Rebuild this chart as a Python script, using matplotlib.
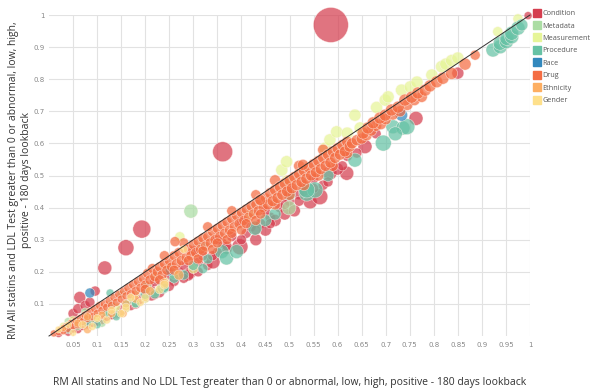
import matplotlib
matplotlib.use('Agg')
import matplotlib.pyplot as plt
from matplotlib.lines import Line2D

# categories / colours
categories = ['Condition', 'Metadata', 'Measurement', 'Procedure', 'Race', 'Drug', 'Ethnicity', 'Gender']
colors = ['#d53e4f', '#abdda4', '#e6f598', '#66c2a5', '#3288bd', '#f46d43', '#fdae61', '#fee08b']

# ticks
x_ticks = [0.05, 0.1, 0.15, 0.2, 0.25, 0.3, 0.35, 0.4, 0.45, 0.5, 0.55, 0.6, 0.65, 0.7, 0.75, 0.8, 0.85, 0.9, 0.95, 1]
x_tick_labels = ['0.05', '0.1', '0.15', '0.2', '0.25', '0.3', '0.35', '0.4', '0.45', '0.5', '0.55', '0.6',
                 '0.65', '0.7', '0.75', '0.8', '0.85', '0.9', '0.95', '1']
y_ticks = [0.1, 0.2, 0.3, 0.4, 0.5, 0.6, 0.7, 0.8, 0.9, 1]
y_tick_labels = ['0.1', '0.2', '0.3', '0.4', '0.5', '0.6', '0.7', '0.8', '0.9', '1']
diag = [0, 1]

# (x, y, bubble weight) per category
condition = [
    (0.586, 0.969, 17.5), (0.361, 0.574, 10), (0.193, 0.333, 9), (0.160, 0.275, 8), (0.116, 0.212, 7),
    (0.096, 0.140, 5), (0.064, 0.120, 6), (0.996, 0.998, 4),
    (0.02, 0.008, 4), (0.04, 0.012, 4), (0.05, 0.022, 4), (0.06, 0.02, 4), (0.07, 0.03, 4), (0.08, 0.035, 4),
    (0.09, 0.04, 4), (0.10, 0.045, 4.5), (0.11, 0.05, 4.5), (0.12, 0.06, 4.5), (0.13, 0.065, 4.5),
    (0.14, 0.07, 5), (0.15, 0.08, 5), (0.16, 0.09, 5), (0.17, 0.095, 5), (0.18, 0.10, 5), (0.19, 0.115, 5),
    (0.20, 0.12, 5), (0.05, 0.07, 5), (0.06, 0.085, 5), (0.075, 0.095, 5), (0.085, 0.105, 5),
    (0.21, 0.15, 5), (0.22, 0.17, 5), (0.23, 0.135, 5), (0.24, 0.16, 5), (0.25, 0.19, 5), (0.26, 0.17, 5),
    (0.27, 0.20, 5), (0.28, 0.22, 5), (0.293, 0.196, 6), (0.30, 0.21, 5), (0.31, 0.23, 5), (0.32, 0.25, 5),
    (0.33, 0.22, 5), (0.341, 0.231, 7), (0.35, 0.26, 5), (0.36, 0.29, 5), (0.37, 0.27, 5), (0.38, 0.31, 5),
    (0.397, 0.278, 8), (0.41, 0.32, 5), (0.42, 0.34, 5), (0.43, 0.30, 6), (0.44, 0.35, 5), (0.45, 0.33, 6),
    (0.46, 0.37, 5), (0.47, 0.36, 6), (0.48, 0.40, 5), (0.49, 0.38, 6), (0.50, 0.42, 5), (0.51, 0.39, 6),
    (0.52, 0.44, 5), (0.53, 0.45, 5), (0.543, 0.418, 7), (0.563, 0.434, 8), (0.57, 0.47, 5),
    (0.584, 0.508, 7), (0.619, 0.507, 7), (0.60, 0.52, 6), (0.62, 0.56, 5), (0.657, 0.59, 7),
    (0.68, 0.63, 5), (0.763, 0.678, 7), (0.85, 0.819, 6), (0.213, 0.128, 6), (0.289, 0.19, 6),
    (0.22, 0.13, 5), (0.25, 0.155, 5), (0.28, 0.18, 5), (0.31, 0.20, 5), (0.34, 0.25, 5), (0.37, 0.28, 5),
    (0.40, 0.30, 5), (0.43, 0.33, 5), (0.46, 0.35, 5), (0.49, 0.41, 5), (0.52, 0.42, 5), (0.55, 0.46, 5),
    (0.58, 0.48, 5), (0.61, 0.53, 5), (0.64, 0.57, 5), (0.30, 0.265, 5), (0.35, 0.30, 5), (0.40, 0.355, 5),
    (0.45, 0.39, 5), (0.50, 0.455, 5), (0.55, 0.49, 5),
]
metadata = [
    (0.295, 0.389, 7), (0.499, 0.399, 7), (0.04, 0.045, 4), (0.09, 0.05, 4), (0.13, 0.10, 4),
    (0.17, 0.11, 4), (0.203, 0.154, 5), (0.25, 0.21, 5), (0.15, 0.13, 4), (0.32, 0.28, 5),
    (0.06, 0.03, 4), (0.11, 0.04, 4), (0.14, 0.07, 4), (0.18, 0.10, 4), (0.22, 0.135, 4.5),
    (0.26, 0.19, 4.5), (0.075, 0.075, 4),
]
measurement = [
    (0.03, 0.03, 4), (0.07, 0.05, 4), (0.10, 0.06, 4), (0.14, 0.09, 4), (0.18, 0.13, 4), (0.22, 0.19, 4),
    (0.272, 0.309, 5), (0.26, 0.20, 4), (0.418, 0.377, 5), (0.494, 0.486, 5),
    (0.05, 0.05, 4), (0.12, 0.075, 4), (0.16, 0.085, 4), (0.20, 0.115, 4), (0.24, 0.17, 4.5), (0.30, 0.21, 5),
    (0.484, 0.517, 6), (0.494, 0.543, 6), (0.574, 0.585, 6), (0.584, 0.611, 6), (0.598, 0.636, 6),
    (0.620, 0.632, 6), (0.636, 0.688, 6), (0.647, 0.648, 6), (0.681, 0.712, 6), (0.699, 0.735, 6),
    (0.705, 0.745, 6), (0.733, 0.766, 6), (0.751, 0.776, 6), (0.765, 0.791, 6), (0.796, 0.813, 6),
    (0.816, 0.839, 6), (0.825, 0.847, 6), (0.837, 0.858, 6), (0.850, 0.866, 6), (0.933, 0.948, 5),
    (0.975, 0.988, 5),
]
procedure = [
    (0.04, 0.02, 4), (0.08, 0.04, 4), (0.12, 0.07, 4), (0.127, 0.134, 4), (0.16, 0.10, 4), (0.20, 0.13, 5),
    (0.237, 0.15, 6), (0.26, 0.18, 5), (0.30, 0.22, 5), (0.33, 0.24, 5), (0.359, 0.263, 7),
    (0.369, 0.243, 7), (0.39, 0.263, 7), (0.428, 0.336, 7), (0.45, 0.36, 6), (0.47, 0.38, 6),
    (0.50, 0.44, 6), (0.536, 0.445, 8), (0.553, 0.455, 8), (0.536, 0.455, 8), (0.58, 0.50, 6),
    (0.636, 0.548, 7), (0.695, 0.601, 8), (0.715, 0.652, 7), (0.736, 0.648, 7), (0.744, 0.652, 8),
    (0.72, 0.63, 7), (0.923, 0.891, 7), (0.938, 0.901, 7), (0.938, 0.912, 7), (0.951, 0.917, 7),
    (0.952, 0.927, 7), (0.962, 0.932, 7), (0.962, 0.943, 7), (0.975, 0.959, 7), (0.983, 0.969, 6),
    (0.10, 0.035, 4), (0.14, 0.06, 4), (0.18, 0.10, 4), (0.22, 0.13, 4.5), (0.28, 0.19, 5),
    (0.32, 0.21, 5), (0.24, 0.15, 4.5),
]
race = [(0.085, 0.134, 5), (0.733, 0.688, 6), (0.25, 0.20, 4)]
drug = [
    (0.01, 0.008, 3.5), (0.02, 0.012, 3.5), (0.025, 0.02, 3.5), (0.03, 0.015, 3.5), (0.035, 0.03, 3.5),
    (0.04, 0.022, 3.5), (0.045, 0.04, 3.5), (0.05, 0.03, 3.5), (0.055, 0.048, 3.5), (0.06, 0.035, 4),
    (0.065, 0.055, 4), (0.07, 0.045, 4), (0.075, 0.065, 4), (0.08, 0.055, 4), (0.085, 0.075, 4),
    (0.09, 0.06, 4), (0.095, 0.085, 4), (0.10, 0.07, 4), (0.105, 0.095, 4), (0.11, 0.08, 4),
    (0.115, 0.10, 4), (0.12, 0.09, 4), (0.125, 0.11, 4), (0.13, 0.095, 4), (0.135, 0.12, 4),
    (0.14, 0.105, 4), (0.145, 0.13, 4), (0.15, 0.115, 4), (0.155, 0.14, 4), (0.16, 0.125, 4),
    (0.165, 0.15, 4.5), (0.17, 0.13, 4.5), (0.175, 0.16, 4.5), (0.18, 0.14, 4.5), (0.185, 0.17, 4.5),
    (0.19, 0.15, 4.5), (0.195, 0.18, 4.5), (0.20, 0.16, 4.5),
    (0.205, 0.195, 5), (0.21, 0.175, 5), (0.215, 0.21, 5), (0.22, 0.185, 5), (0.225, 0.20, 5),
    (0.23, 0.215, 5), (0.235, 0.19, 5), (0.24, 0.225, 5), (0.245, 0.205, 5), (0.25, 0.235, 5),
    (0.255, 0.215, 5), (0.26, 0.25, 5), (0.265, 0.225, 5), (0.27, 0.26, 5), (0.275, 0.235, 5),
    (0.28, 0.29, 5), (0.285, 0.245, 5), (0.29, 0.27, 5), (0.295, 0.25, 5), (0.30, 0.285, 5),
    (0.305, 0.26, 5), (0.31, 0.295, 5), (0.315, 0.27, 5), (0.32, 0.305, 5), (0.325, 0.28, 5),
    (0.33, 0.31, 5), (0.335, 0.29, 5), (0.34, 0.325, 5), (0.345, 0.30, 5), (0.35, 0.335, 5),
    (0.355, 0.31, 5), (0.36, 0.345, 5), (0.365, 0.32, 5), (0.37, 0.355, 5), (0.375, 0.33, 5),
    (0.38, 0.365, 5), (0.385, 0.34, 5), (0.39, 0.375, 5), (0.395, 0.35, 5), (0.40, 0.385, 5),
    (0.405, 0.36, 5), (0.41, 0.395, 5), (0.415, 0.37, 5), (0.42, 0.405, 5), (0.425, 0.38, 5),
    (0.43, 0.41, 5), (0.435, 0.39, 5), (0.44, 0.42, 5), (0.445, 0.40, 5), (0.45, 0.43, 5),
    (0.31, 0.24, 5), (0.34, 0.27, 5), (0.37, 0.30, 5), (0.40, 0.33, 5), (0.43, 0.36, 5), (0.262, 0.294, 5),
    (0.20, 0.145, 5), (0.23, 0.175, 5), (0.26, 0.205, 5), (0.29, 0.235, 5), (0.32, 0.265, 5),
    (0.35, 0.29, 5), (0.38, 0.32, 5), (0.41, 0.35, 5), (0.44, 0.38, 5), (0.47, 0.41, 5.5),
    (0.50, 0.44, 5.5), (0.53, 0.47, 5.5), (0.56, 0.50, 5.5), (0.59, 0.53, 5.5), (0.62, 0.57, 5.5),
    (0.24, 0.25, 5), (0.33, 0.34, 5), (0.38, 0.39, 5), (0.43, 0.44, 5), (0.47, 0.485, 5.5),
    (0.52, 0.53, 5.5), (0.57, 0.58, 5.5),
    (0.455, 0.41, 5.5), (0.46, 0.445, 5.5), (0.465, 0.42, 5.5), (0.47, 0.455, 5.5), (0.475, 0.43, 5.5),
    (0.48, 0.465, 5.5), (0.485, 0.44, 5.5), (0.49, 0.475, 5.5), (0.495, 0.45, 5.5), (0.50, 0.485, 5.5),
    (0.505, 0.46, 5.5), (0.51, 0.495, 5.5), (0.515, 0.47, 5.5), (0.52, 0.505, 5.5), (0.525, 0.48, 5.5),
    (0.53, 0.515, 5.5), (0.535, 0.49, 5.5), (0.54, 0.525, 5.5), (0.545, 0.50, 5.5), (0.55, 0.535, 5.5),
    (0.555, 0.51, 5.5), (0.56, 0.545, 5.5), (0.565, 0.52, 5.5), (0.57, 0.555, 5.5), (0.575, 0.53, 5.5),
    (0.58, 0.565, 5.5), (0.585, 0.54, 5.5), (0.59, 0.575, 5.5), (0.595, 0.555, 5.5), (0.60, 0.585, 5.5),
    (0.605, 0.565, 5.5), (0.61, 0.595, 5.5), (0.615, 0.575, 5.5), (0.62, 0.605, 5.5), (0.625, 0.59, 5.5),
    (0.439, 0.424, 5.5), (0.528, 0.533, 5.5),
    (0.63, 0.60, 5.5), (0.64, 0.61, 5.5), (0.65, 0.615, 5.5), (0.66, 0.625, 5.5), (0.67, 0.64, 5.5),
    (0.68, 0.655, 5.5), (0.69, 0.66, 5.5), (0.70, 0.675, 5.5), (0.715, 0.69, 5.5), (0.73, 0.70, 5.5),
    (0.745, 0.72, 5.5), (0.76, 0.735, 5.5), (0.775, 0.745, 5.5),
    (0.653, 0.632, 6), (0.663, 0.648, 6), (0.674, 0.664, 6), (0.688, 0.679, 6), (0.699, 0.688, 6),
    (0.712, 0.704, 6), (0.726, 0.713, 6), (0.74, 0.735, 6), (0.754, 0.744, 6), (0.767, 0.757, 6),
    (0.782, 0.766, 6), (0.792, 0.779, 6), (0.806, 0.792, 6), (0.819, 0.803, 6), (0.837, 0.818, 6),
    (0.865, 0.847, 6), (0.886, 0.875, 5),
]
ethnicity = [
    (0.03, 0.025, 3.5), (0.06, 0.04, 4), (0.11, 0.065, 4), (0.16, 0.10, 4), (0.21, 0.14, 4.5),
    (0.27, 0.19, 5), (0.154, 0.07, 4), (0.08, 0.06, 4), (0.13, 0.07, 4), (0.18, 0.115, 4),
    (0.24, 0.165, 4.5), (0.08, 0.02, 4),
]
gender = [
    (0.02, 0.02, 3.5), (0.05, 0.01, 3.5), (0.09, 0.03, 4), (0.12, 0.05, 4), (0.15, 0.07, 4),
    (0.19, 0.105, 4), (0.23, 0.145, 4.5), (0.17, 0.12, 4), (0.28, 0.27, 4),
    (0.04, 0.035, 3.5), (0.07, 0.035, 4), (0.10, 0.055, 4), (0.13, 0.08, 4), (0.16, 0.09, 4),
    (0.20, 0.12, 4), (0.24, 0.16, 4.5),
]

series = [condition, metadata, measurement, procedure, race, drug, ethnicity, gender]

fig = plt.figure(figsize=(5.93, 3.89), dpi=100)
ax = fig.add_axes([49 / 593, 1 - 336 / 389, 481 / 593, 321 / 389])

for pts, name, col in zip(series, categories, colors):
    xs = [p[0] for p in pts]
    ys = [p[1] for p in pts]
    ss = [(1.44 * p[2]) ** 2 for p in pts]
    ax.scatter(xs, ys, s=ss, c=col, alpha=0.72, edgecolors='#fff5f0', linewidths=0.4,
               clip_on=False, zorder=3)

ax.plot(diag, diag, color='#333333', lw=0.7, zorder=5, clip_on=False)

ax.set_xlim(0, 1)
ax.set_ylim(0, 1)
ax.set_xticks(x_ticks)
ax.set_xticklabels(x_tick_labels)
ax.set_yticks(y_ticks)
ax.set_yticklabels(y_tick_labels)
ax.tick_params(length=0, labelsize=5, labelcolor='#888888', pad=4)
ax.tick_params(axis='y', pad=3)
ax.grid(True, color='#e2e2e2', lw=0.8, zorder=0)
ax.set_axisbelow(True)
for sp in ax.spines.values():
    sp.set_visible(False)

fig.text(290 / 593, 1 - 382 / 389,
         'RM All statins and No LDL Test greater than 0 or abnormal, low, high, positive - 180 days lookback',
         ha='center', va='center', fontsize=7.5, color='#333333', family='Open Sans')
fig.text(20 / 593, 1 - 180 / 389,
         'RM All statins and LDL Test greater than 0 or abnormal, low, high,\npositive - 180 days lookback',
         ha='center', va='center', rotation=90, fontsize=7.5, color='#333333', family='Open Sans',
         linespacing=1.25, multialignment='center')

handles = [Line2D([], [], marker='s', ls='', color=c, markersize=5.5) for c in colors]
fig.legend(handles, categories, loc='upper left', bbox_to_anchor=(534 / 593, 1 - 10 / 389),
           frameon=False, labelcolor='#555555', handlelength=0.8, handletextpad=0.4,
           labelspacing=0.75, borderpad=0, borderaxespad=0, prop={'family': 'Open Sans', 'size': 5.2})

fig.savefig('out.png', dpi=100)
